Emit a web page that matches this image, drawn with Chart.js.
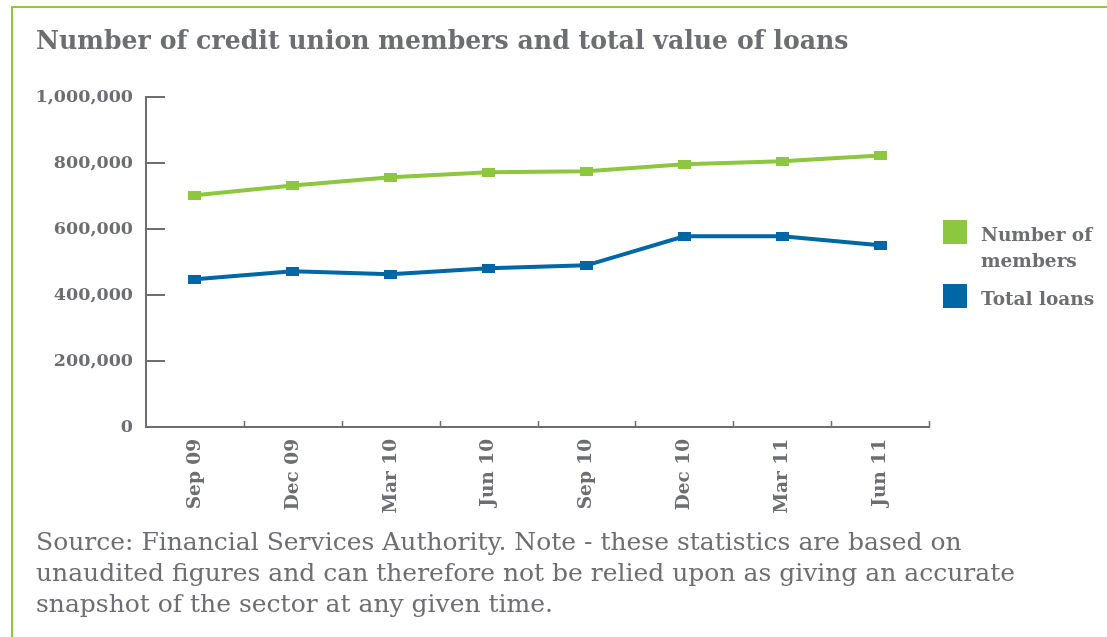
<!DOCTYPE html>
<html>
<head>
<meta charset="utf-8">
<script src="https://cdn.jsdelivr.net/npm/chart.js@4/dist/chart.umd.min.js"></script>
<style>
  html, body { margin: 0; padding: 0; background: #ffffff; }
  body { width: 1107px; height: 637px; position: relative; overflow: hidden; }
  #frame {
    position: absolute; left: 11px; top: 6px; right: -10px; bottom: -10px;
    border-left: 2px solid #8dc63f; border-top: 2px solid #8dc63f;
  }
  #chart { position: absolute; left: 0; top: 0; }
  .txt { position: absolute; color: #6d6e71; font-family: "DejaVu Serif", serif; white-space: nowrap; }
  #title { left: 36px; top: 25px; font-size: 25.2px; font-weight: bold; }
  #legend { left: 943px; top: 220px; }
  .item { position: relative; height: 64px; }
  .swatch { position: absolute; left: 0; top: 0; width: 24px; height: 24px; }
  .label { position: absolute; left: 38px; top: 2px; font-size: 18.5px; font-weight: bold; line-height: 26px; color: #6d6e71; font-family: "DejaVu Serif", serif; }
  #note { left: 36px; top: 526px; font-size: 25px; line-height: 31px; }
</style>
</head>
<body>
<div id="frame"></div>
<canvas id="chart" width="1107" height="637"></canvas>
<div id="title" class="txt">Number of credit union members and total value of loans</div>
<div id="legend" class="txt"></div>
<div id="note" class="txt">Source: Financial Services Authority. Note - these statistics are based on<br>unaudited figures and can therefore not be relied upon as giving an accurate<br>snapshot of the sector at any given time.</div>
<script>
// Quarter labels along the x axis
const quarters = ['Sep 09', 'Dec 09', 'Mar 10', 'Jun 10', 'Sep 10', 'Dec 10', 'Mar 11', 'Jun 11'];
// Credit union membership per quarter
const members = [702000, 732000, 757000, 772000, 775000, 796000, 805000, 823000];
// Total value of loans per quarter
const loans = [448000, 472000, 463000, 481000, 490000, 578000, 578000, 551000];
// Y axis tick values
const yTicks = [0, 200000, 400000, 600000, 800000, 1000000];
// Legend texts (line breaks as shown)
const seriesNames = [['Number of', 'members'], ['Total loans']];

const GREEN = '#8dc63f';
const BLUE = '#0067a6';
const GREY = '#6d6e71';
const FONT = '"DejaVu Serif", serif';

// Flat rectangular markers
function marker(color) {
  const c = document.createElement('canvas');
  c.width = 13; c.height = 9;
  const g = c.getContext('2d');
  g.fillStyle = color;
  g.fillRect(0, 0, 13, 9);
  return c;
}

// Short tick marks pointing into the plot area
const inwardTicks = {
  id: 'inwardTicks',
  afterDatasetsDraw(chart) {
    const { ctx, chartArea, scales: { x, y } } = chart;
    ctx.save();
    ctx.strokeStyle = GREY;
    ctx.lineWidth = 2;
    y.ticks.forEach(t => {
      if (t.value === 0) return;
      const py = Math.round(y.getPixelForValue(t.value));
      ctx.beginPath();
      ctx.moveTo(chartArea.left, py);
      ctx.lineTo(chartArea.left + 19, py);
      ctx.stroke();
    });
    ctx.lineWidth = 1.5;
    for (let i = 1; i <= quarters.length; i++) {
      const px = Math.round(x.getPixelForValue(i - 0.5)) + 0.5;
      ctx.beginPath();
      ctx.moveTo(px, chartArea.bottom);
      ctx.lineTo(px, chartArea.bottom - 6);
      ctx.stroke();
    }
    ctx.restore();
  }
};

const datasets = [
  { label: seriesNames[0].join(' '), data: members, color: GREEN },
  { label: seriesNames[1].join(' '), data: loans, color: BLUE }
].map(d => ({
  label: d.label,
  data: d.data,
  borderColor: d.color,
  backgroundColor: d.color,
  borderWidth: 4,
  tension: 0,
  pointStyle: marker(d.color),
  pointRadius: 6,
  pointHoverRadius: 6
}));

new Chart(document.getElementById('chart'), {
  type: 'line',
  data: { labels: quarters, datasets },
  options: {
    responsive: false,
    animation: false,
    events: [],
    layout: { padding: { left: 0, top: 97, right: 178, bottom: 0 } },
    plugins: { legend: { display: false }, title: { display: false }, tooltip: { enabled: false } },
    scales: {
      x: {
        offset: true,
        grid: { display: true, drawOnChartArea: false, drawTicks: false },
        border: { display: true, color: GREY, width: 2 },
        ticks: {
          autoSkip: false, minRotation: 90, maxRotation: 90, padding: 12,
          color: GREY, font: { family: FONT, size: 18.5, weight: 'bold' }
        },
        afterFit(scale) { scale.height = 210; }
      },
      y: {
        min: 0, max: 1000000,
        afterBuildTicks(scale) { scale.ticks = yTicks.map(v => ({ value: v })); },
        grid: { display: true, drawOnChartArea: false, drawTicks: false },
        border: { display: true, color: GREY, width: 2 },
        ticks: {
          padding: 13, color: GREY,
          font: { family: FONT, size: 17.5, weight: 'bold' },
          callback: v => v.toLocaleString('en-US')
        },
        afterFit(scale) { scale.width = 146; }
      }
    }
  },
  plugins: [inwardTicks]
});

// Legend built from the dataset colours and names
const legend = document.getElementById('legend');
[GREEN, BLUE].forEach((c, i) => {
  const item = document.createElement('div');
  item.className = 'item';
  const sw = document.createElement('div');
  sw.className = 'swatch';
  sw.style.background = c;
  const lb = document.createElement('div');
  lb.className = 'label';
  lb.innerHTML = seriesNames[i].join('<br>');
  item.appendChild(sw);
  item.appendChild(lb);
  legend.appendChild(item);
});
</script>
</body>
</html>
